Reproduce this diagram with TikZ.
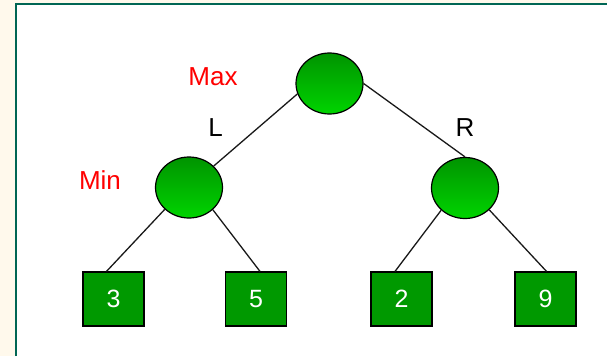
\documentclass[tikz,border=0pt]{standalone}
\usepackage{fontspec}
\setmainfont{Liberation Sans}
\usetikzlibrary{shapes.geometric}
\definecolor{cream}{RGB}{255,249,236}
\definecolor{framegreen}{RGB}{0,102,84}
\definecolor{boxgreen}{RGB}{0,153,0}
\definecolor{topgreen}{RGB}{0,148,0}
\definecolor{botgreen}{RGB}{0,212,0}
\begin{document}
\begin{tikzpicture}[x=1pt,y=-1pt,
  circnode/.style={ellipse, draw=black, line width=1.2pt, minimum width=67pt, minimum height=61pt, inner sep=0pt, top color=topgreen, bottom color=botgreen},
  leafnode/.style={rectangle, draw=black, line width=1.2pt, fill=boxgreen, minimum width=61pt, minimum height=54pt, inner sep=0pt, text=white, font=\fontsize{25}{25}\selectfont},
  redlab/.style={text=red, inner sep=0pt, font=\fontsize{26}{26}\selectfont},
  sidelab/.style={text=black, inner sep=0pt, font=\fontsize{26}{26}\selectfont},
  link/.style={draw=black!90, line width=1.3pt}]
\useasboundingbox (0,0) rectangle (607,356);
\fill[cream] (0,0) rectangle (607,356);
\fill[white] (16,4) rectangle (607,356);
\draw[framegreen, line width=2.2pt] (16,356) -- (16,4) -- (607,4);

\node[circnode] (root) at (329.5,83.5) {};
\node[circnode] (minL) at (189,187.5) {};
\node[circnode] (minR) at (465,188) {};

\node[leafnode] (l3) at (113.5,299) {3};
\node[leafnode] (l5) at (256,299) {5};
\node[leafnode] (l2) at (401.5,299) {2};
\node[leafnode] (l9) at (545.5,299) {9};

\node[redlab] (maxlab) at (213,76.5) {Max};
\node[redlab] (minlab) at (100,180.5) {Min};
\node[sidelab] (llab) at (215.5,128) {L};
\node[sidelab] (rlab) at (465,128) {R};

\draw[link] (root.198.9) -- (minL.41.9);
\draw[link] (root.0) -- (minR.90);
\draw[link] (minL.222) -- ([xshift=-7pt]l3.north);
\draw[link] (minL.317) -- ([xshift=4pt]l5.north);
\draw[link] (minR.223) -- ([xshift=-6.5pt]l2.north);
\draw[link] (minR.318) -- ([xshift=1pt]l9.north);
\end{tikzpicture}
\end{document}
